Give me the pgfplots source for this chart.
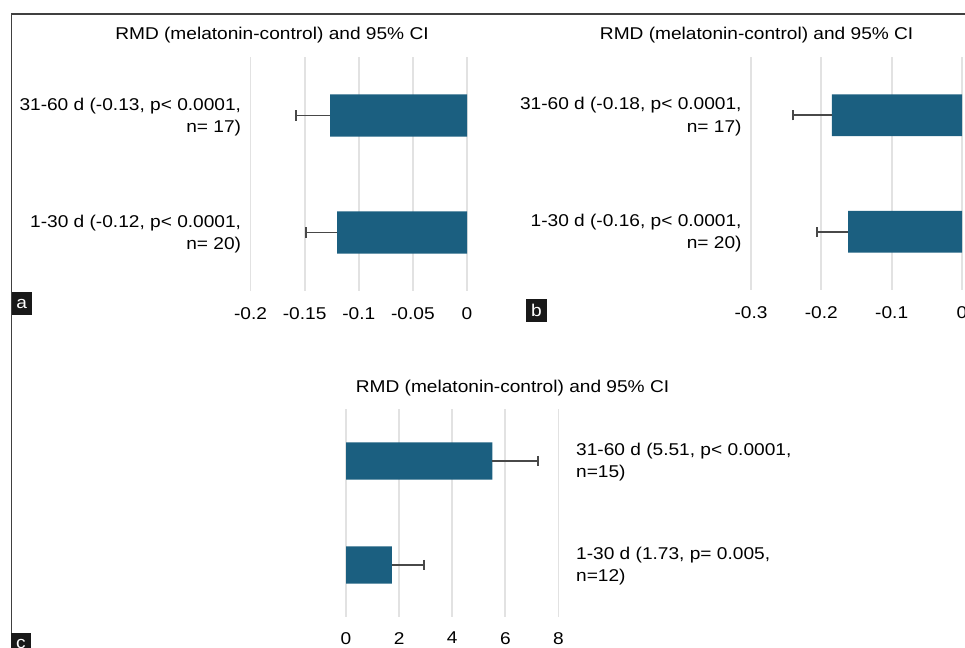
\documentclass[border=0pt]{standalone}
\usepackage{fontspec}
\setmainfont{Liberation Sans}[FakeStretch=1.12]
\usepackage{pgfplots}
\pgfplotsset{compat=1.18}
\definecolor{barblue}{RGB}{27,95,128}
\definecolor{gridgray}{RGB}{226,226,226}
\definecolor{errgray}{RGB}{72,72,72}
\definecolor{framegray}{RGB}{64,64,64}
\newcommand{\chfont}{\fontsize{12.8}{16.6}\selectfont}
\pgfplotsset{
  panel/.style={
    scale only axis, xbar, clip=false,
    axis line style={draw=none},
    tick style={draw=none},
    xmajorgrids, grid style={color=gridgray, line width=1.4pt},
    ymin=0, ymax=2, ytick={0.5,1.5},
    bar width=0.36,
    xticklabel style={font=\chfont, inner sep=0pt, anchor=north, yshift=-12.5pt},
    yticklabel style={font=\chfont, inner sep=0pt, align=right, anchor=east, xshift=-2.6pt, yshift=-1pt},
  },
}
\begin{document}
\begin{tikzpicture}
\useasboundingbox (0,0) rectangle (723.75pt,485.25pt);
\clip (0,0) rectangle (723.75pt,485.25pt);
% frame
\draw[framegray, line width=0.9pt] (8.6pt,-5pt) -- (8.6pt,474.75pt) -- (730pt,474.75pt);
% panel a
\begin{axis}[panel, at={(187.875pt,267pt)}, anchor=south west,
  width=162.375pt, height=175.5pt,
  xmin=-0.2, xmax=0, xtick={-0.2,-0.15,-0.1,-0.05,0},
  xticklabels={-0.2,-0.15,-0.1,-0.05,0},
  yticklabels={{1-30 d (-0.12, p< 0.0001,\\n= 20)},{31-60 d (-0.13, p< 0.0001,\\n= 17)}}]
\addplot[fill=barblue, draw=none,
  error bars/.cd, x dir=minus, x explicit, error mark=|,
  error bar style={line width=1.4pt, color=errgray},
  error mark options={line width=1.2pt, color=errgray, mark size=3.8pt}]
  coordinates {(-0.12,0.5) +- (0.0285,0) (-0.1265,1.5) +- (0.0315,0)};
\end{axis}
% panel b
\begin{axis}[panel, at={(563.25pt,267.75pt)}, anchor=south west,
  width=158.25pt, height=174.75pt,
  xmin=-0.3, xmax=0, xtick={-0.3,-0.2,-0.1,0},
  xticklabels={-0.3,-0.2,-0.1,0},
  yticklabels={{1-30 d (-0.16, p< 0.0001,\\n= 20)},{31-60 d (-0.18, p< 0.0001,\\n= 17)}}]
\addplot[fill=barblue, draw=none,
  error bars/.cd, x dir=minus, x explicit, error mark=|,
  error bar style={line width=1.4pt, color=errgray},
  error mark options={line width=1.2pt, color=errgray, mark size=3.8pt}]
  coordinates {(-0.162,0.5) +- (0.044,0) (-0.185,1.5) +- (0.055,0)};
\end{axis}
% panel c
\begin{axis}[panel, at={(259.5pt,22.5pt)}, anchor=south west,
  width=159.375pt, height=156pt,
  xmin=0, xmax=8, xtick={0,2,4,6,8}, xticklabels={0,2,4,6,8},
  bar width=0.356,
  xticklabel style={yshift=1.3pt},
  yticklabel pos=right,
  yticklabel style={align=left, anchor=west, xshift=11.4pt},
  yticklabels={{1-30 d (1.73, p= 0.005,\\n=12)},{31-60 d (5.51, p< 0.0001,\\n=15)}}]
\addplot[fill=barblue, draw=none,
  error bars/.cd, x dir=plus, x explicit, error mark=|,
  error bar style={line width=1.4pt, color=errgray},
  error mark options={line width=1.2pt, color=errgray, mark size=3.8pt}]
  coordinates {(1.73,0.5) +- (1.2,0) (5.51,1.5) +- (1.72,0)};
\end{axis}
% titles
\node[font=\chfont, anchor=base, inner sep=0pt] at (204pt,455.25pt) {RMD (melatonin-control) and 95\% CI};
\node[font=\chfont, anchor=base, inner sep=0pt] at (567.5pt,455.25pt) {RMD (melatonin-control) and 95\% CI};
\node[font=\chfont, anchor=base, inner sep=0pt] at (384.4pt,190.5pt) {RMD (melatonin-control) and 95\% CI};
% panel letters
\fill[black!90] (8.78pt,249pt) rectangle (23.78pt,266.25pt);
\node[font=\chfont, text=white, inner sep=0pt] at (16.28pt,257.6pt) {a};
\fill[black!90] (394.5pt,243.75pt) rectangle (410pt,261pt);
\node[font=\chfont, text=white, inner sep=0pt] at (402.25pt,252.4pt) {b};
\fill[black!90] (8.0pt,-6.75pt) rectangle (23.25pt,10.5pt);
\node[font=\chfont, text=white, inner sep=0pt] at (15.6pt,1.9pt) {c};
\end{tikzpicture}
\end{document}
